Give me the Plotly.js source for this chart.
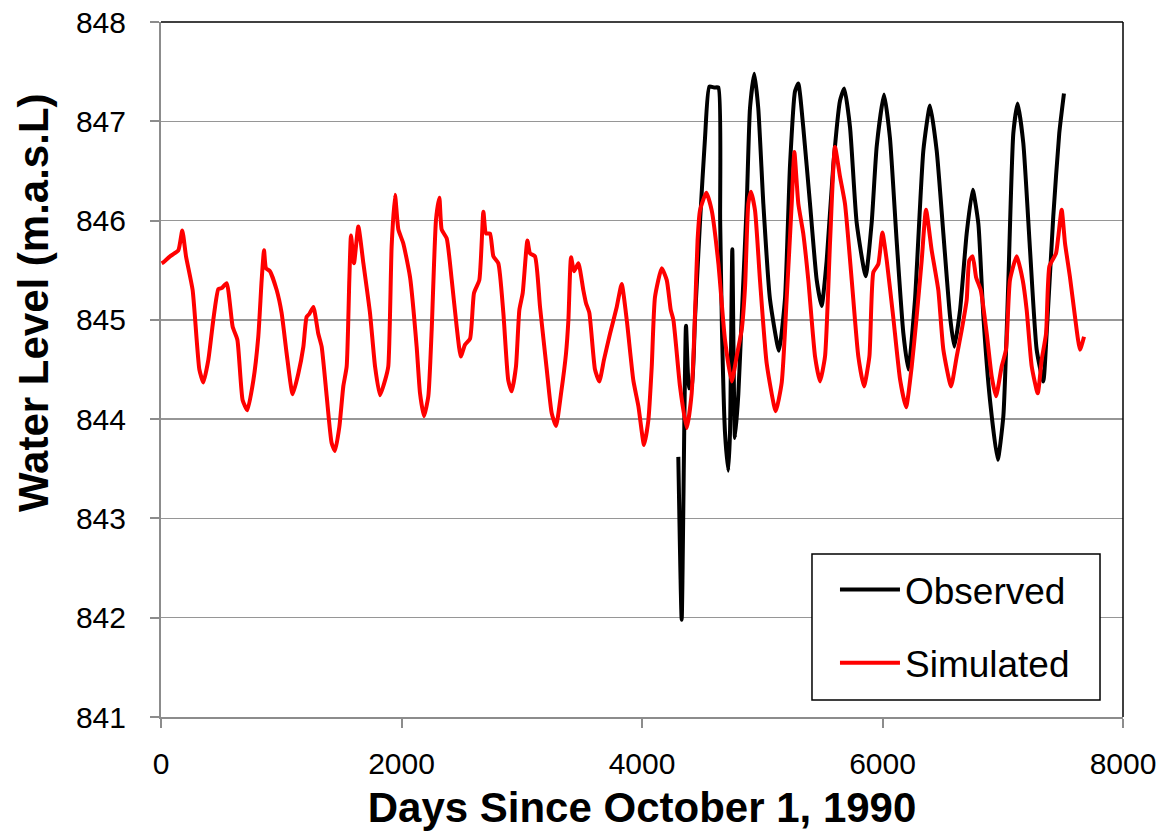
<!DOCTYPE html>
<html>
<head>
<meta charset="utf-8">
<script src="https://cdn.plot.ly/plotly-3.0.1.min.js"></script>
<style>
  html, body { margin: 0; padding: 0; background: #ffffff; }
  #chart { width: 1163px; height: 832px; }
</style>
</head>
<body>
<div id="chart"></div>
<script>
// Simulated water level (red)
var simDays = [5, 19, 75, 144, 177, 208, 263, 319, 352, 394, 435, 477, 505, 546, 596, 635, 679, 718, 768, 809,
  837, 857, 873, 906, 962, 1003, 1045, 1095, 1142, 1184, 1211, 1234, 1267, 1308, 1336, 1378, 1419, 1447, 1483, 1516,
  1544, 1566, 1580, 1605, 1641, 1683, 1738, 1780, 1821, 1863, 1890, 1918, 1946, 1974, 2015, 2071, 2126, 2154, 2187, 2223,
  2251, 2287, 2315, 2334, 2376, 2418, 2459, 2493, 2528, 2570, 2603, 2647, 2681, 2703, 2736, 2764, 2805, 2847, 2888, 2916,
  2952, 2980, 3008, 3047, 3069, 3110, 3152, 3208, 3249, 3285, 3327, 3368, 3388, 3410, 3435, 3471, 3512, 3534, 3562, 3609,
  3645, 3684, 3734, 3790, 3831, 3873, 3928, 3970, 4017, 4053, 4081, 4108, 4164, 4206, 4239, 4261, 4316, 4372, 4413, 4441,
  4462, 4482, 4535, 4580, 4635, 4690, 4746, 4790, 4829, 4857, 4884, 4906, 4940, 4981, 5037, 5112, 5162, 5203, 5245, 5267,
  5300, 5341, 5383, 5439, 5480, 5522, 5564, 5605, 5647, 5688, 5744, 5799, 5846, 5891, 5924, 5965, 5999, 6035, 6090, 6146,
  6196, 6243, 6284, 6326, 6362, 6409, 6464, 6506, 6570, 6617, 6659, 6700, 6722, 6750, 6778, 6817, 6867, 6908, 6944, 6991,
  7027, 7060, 7116, 7166, 7199, 7241, 7291, 7324, 7360, 7388, 7443, 7462, 7490, 7518, 7559, 7601, 7642, 7676];
var simLevel = [845.57, 845.58, 845.64, 845.70, 845.90, 845.64, 845.30, 844.50, 844.37, 844.60, 845.00, 845.31, 845.32, 845.37, 844.93, 844.80, 844.19, 844.09, 844.39, 844.83,
  845.40, 845.70, 845.52, 845.49, 845.30, 845.07, 844.66, 844.25, 844.46, 844.73, 845.03, 845.06, 845.13, 844.86, 844.73, 844.23, 843.76, 843.68, 843.92, 844.33,
  844.53, 845.40, 845.85, 845.57, 845.94, 845.57, 845.07, 844.53, 844.24, 844.39, 844.53, 845.74, 846.26, 845.91, 845.77, 845.43, 844.73, 844.26, 844.03, 844.23,
  844.90, 846.01, 846.23, 845.91, 845.82, 845.40, 844.93, 844.63, 844.75, 844.81, 845.27, 845.40, 846.09, 845.87, 845.87, 845.64, 845.57, 845.07, 844.39, 844.28,
  844.53, 845.10, 845.27, 845.80, 845.67, 845.64, 845.13, 844.50, 844.06, 843.93, 844.26, 844.66, 845.00, 845.63, 845.49, 845.57, 845.30, 845.17, 845.07, 844.50,
  844.38, 844.60, 844.86, 845.13, 845.36, 845.00, 844.39, 844.13, 843.74, 843.99, 844.53, 845.23, 845.52, 845.40, 845.10, 845.00, 844.33, 843.91, 844.26, 845.07,
  845.80, 846.10, 846.28, 846.10, 845.57, 844.80, 844.38, 844.65, 844.90, 845.33, 846.17, 846.29, 846.10, 845.40, 844.56, 844.08, 844.37, 845.21, 846.17, 846.69,
  846.17, 845.87, 845.40, 844.63, 844.38, 844.63, 845.79, 846.74, 846.44, 846.17, 845.40, 844.63, 844.33, 844.63, 845.48, 845.56, 845.88, 845.60, 845.02, 844.40,
  844.12, 844.53, 845.03, 845.60, 846.11, 845.70, 845.30, 844.70, 844.33, 844.63, 844.90, 845.20, 845.60, 845.64, 845.43, 845.30, 844.86, 844.43, 844.23, 844.53,
  844.70, 845.40, 845.64, 845.40, 845.10, 844.53, 844.26, 844.60, 844.86, 845.54, 845.67, 845.84, 846.11, 845.77, 845.43, 845.03, 844.70, 844.83];

// Observed water level (black)
var obsDays = [4302, 4330, 4366, 4393, 4413, 4441, 4482, 4524, 4560, 4600, 4635, 4650, 4665, 4690, 4718, 4732, 4751, 4773, 4801, 4829,
  4871, 4898, 4934, 4967, 5009, 5064, 5139, 5189, 5231, 5272, 5300, 5341, 5397, 5453, 5494, 5536, 5591, 5647, 5682, 5730,
  5785, 5860, 5910, 5952, 6013, 6062, 6118, 6173, 6215, 6270, 6340, 6395, 6451, 6506, 6562, 6597, 6645, 6700, 6750, 6797,
  6839, 6894, 6958, 7005, 7046, 7088, 7124, 7171, 7227, 7282, 7337, 7365, 7420, 7470, 7509];
var obsLevel = [843.62, 841.98, 844.94, 844.31, 844.33, 845.02, 845.98, 846.83, 847.35, 847.34, 847.34, 846.00, 844.90, 843.87, 843.48, 843.87, 845.71, 843.81, 844.25, 845.02,
  846.17, 847.13, 847.48, 847.13, 846.17, 845.21, 844.69, 845.21, 846.56, 847.30, 847.38, 846.94, 846.17, 845.40, 845.14, 845.60, 846.56, 847.21, 847.33, 846.94,
  845.98, 845.44, 845.98, 846.75, 847.27, 846.83, 845.79, 844.87, 844.50, 845.20, 846.71, 847.16, 846.70, 845.87, 845.03, 844.73, 845.10, 845.87, 846.31, 845.97,
  845.03, 844.19, 843.59, 844.03, 845.37, 846.88, 847.18, 846.78, 845.70, 844.70, 844.38, 844.86, 846.04, 846.88, 847.28];

var xTickVals = [0, 2000, 4000, 6000, 8000];
var yTickVals = [841, 842, 843, 844, 845, 846, 847, 848];

var FONT = 'Arial, "Liberation Sans", sans-serif';

var traces = [
  {
    x: obsDays, y: obsLevel, type: 'scatter', mode: 'lines', name: 'Observed',
    legendgroup: 'obs',
    line: { color: '#000000', width: 4, shape: 'spline', smoothing: 0.5 }
  },
  {
    x: simDays, y: simLevel, type: 'scatter', mode: 'lines', name: 'Simulated',
    legendgroup: 'sim',
    line: { color: '#ff0000', width: 4, shape: 'spline', smoothing: 0.5 }
  }
];

var layout = {
  width: 1163, height: 832,
  paper_bgcolor: '#ffffff', plot_bgcolor: '#ffffff',
  margin: { l: 161, r: 40, t: 22, b: 115 },
  font: { family: FONT, color: '#000000' },
  showlegend: true,
  legend: {
    x: 0.7006, y: 0.2273, xanchor: 'left', yanchor: 'top',
    bgcolor: 'rgba(0,0,0,0)', borderwidth: 0,
    font: { family: FONT, size: 37, color: '#000000' },
    tracegroupgap: 22, itemwidth: 60
  },
  xaxis: {
    range: [0, 8000], tickvals: xTickVals, ticktext: xTickVals.map(String),
    showgrid: false, zeroline: false,
    showline: true, linecolor: '#8c8c8c', linewidth: 2,
    ticks: 'outside', ticklen: 9, tickwidth: 2, tickcolor: '#8c8c8c',
    tickfont: { family: FONT, size: 30, color: '#000000' },
    ticklabelstandoff: 10,
    title: { text: '<b>Days Since October 1, 1990</b>', font: { family: FONT, size: 42, color: '#000000' }, standoff: 14 }
  },
  yaxis: {
    range: [841, 848], tickvals: yTickVals, ticktext: yTickVals.map(String),
    showgrid: true, gridcolor: '#969696', gridwidth: 1.5, zeroline: false,
    showline: true, linecolor: '#8c8c8c', linewidth: 2,
    ticks: 'outside', ticklen: 9, tickwidth: 2, tickcolor: '#8c8c8c',
    tickfont: { family: FONT, size: 30, color: '#000000' },
    ticklabelstandoff: 18,
    title: { text: '' }
  },
  annotations: [
    {
      text: '<b>Water Level (m.a.s.L)</b>', xref: 'paper', yref: 'paper',
      x: -0.1331, y: 0.597, xanchor: 'center', yanchor: 'middle',
      textangle: -90, showarrow: false,
      font: { family: FONT, size: 42, color: '#000000' }
    }
  ],
  shapes: [
    { type: 'line', xref: 'paper', yref: 'paper', x0: 0, x1: 1, y0: 1, y1: 1, line: { color: '#000000', width: 1.5 } },
    { type: 'line', xref: 'paper', yref: 'paper', x0: 1, x1: 1, y0: 0, y1: 1, line: { color: '#000000', width: 1.5 } },
    { type: 'rect', xref: 'paper', yref: 'paper', layer: 'above',
      x0: 0.6767, x1: 0.9761, y0: 0.02446, y1: 0.2345,
      fillcolor: '#ffffff', line: { color: '#000000', width: 1.5 } }
  ]
};

Plotly.newPlot('chart', traces, layout, { displayModeBar: false, staticPlot: true });
</script>
</body>
</html>
